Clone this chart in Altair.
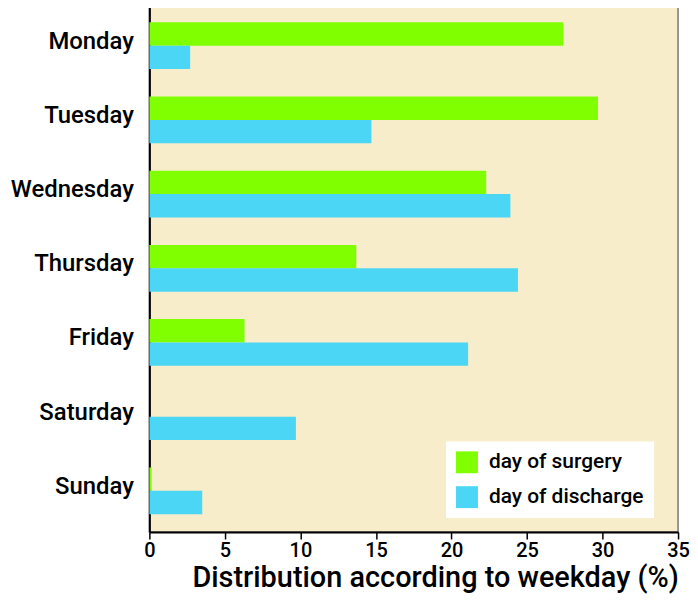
import altair as alt
import pandas as pd

days = ["Monday", "Tuesday", "Wednesday", "Thursday", "Friday", "Saturday", "Sunday"]
surgery = [27.4, 29.7, 22.3, 13.7, 6.3, 0.0, 0.15]
discharge = [2.7, 14.7, 23.9, 24.4, 21.1, 9.7, 3.5]
series = ["day of surgery", "day of discharge"]
colors = ["#7fff00", "#4ad6f4"]
x_ticks = [0, 5, 10, 15, 20, 25, 30, 35]

rows = []
for d, s, c in zip(days, surgery, discharge):
    rows.append({"day": d, "series": series[0], "value": s})
    rows.append({"day": d, "series": series[1], "value": c})
df = pd.DataFrame(rows)

FONT = "Roboto"

chart = alt.Chart(df).mark_bar().encode(
    y=alt.Y("day:N", sort=days,
            scale=alt.Scale(paddingInner=0.37, paddingOuter=0.255, align=0.53),
            axis=alt.Axis(title=None, ticks=False, labelFontSize=24, labelFontWeight=500,
                          labelPadding=16, labelColor="black", labelFont=FONT,
                          domainColor="black", domainWidth=2, labelOffset=-4)),
    yOffset=alt.YOffset("series:N", sort=series, scale=alt.Scale(paddingInner=0, paddingOuter=0)),
    x=alt.X("value:Q", scale=alt.Scale(domain=[0, 35], nice=False),
            axis=alt.Axis(values=x_ticks, title="Distribution according to weekday (%)",
                          grid=False, tickSize=7, tickColor="black", tickWidth=1.5,
                          labelFontSize=20, labelFontWeight=500, labelColor="black",
                          labelFont=FONT, labelPadding=2, titleFontSize=29,
                          titleFontWeight=500, titleFont=FONT, titleColor="black",
                          titlePadding=3, titleX=287, titleAnchor="start", titleAlign="center",
                          domainColor="black", domainWidth=2, labelFlush=False)),
    color=alt.Color("series:N", sort=series,
                    scale=alt.Scale(domain=series, range=colors),
                    legend=alt.Legend(title=None, orient="none", legendX=298, legendY=441,
                                      fillColor="white", padding=10, symbolType="square",
                                      symbolSize=484, symbolStrokeWidth=0, labelFontSize=21,
                                      labelFontWeight=500, labelFont=FONT, labelColor="black",
                                      labelOffset=11, rowPadding=13, symbolOpacity=1,
                                      labelLimit=300, offset=0)),
).properties(
    width=531, height=532,
    autosize=alt.AutoSizeParams(type="none"),
    padding={"left": 142, "top": -7, "right": 12, "bottom": 63},
).configure_view(
    fill="#f7edca", stroke="#777777", strokeWidth=1.5
)

chart.save("out.html", embed_options={"renderer": "svg", "actions": False})
